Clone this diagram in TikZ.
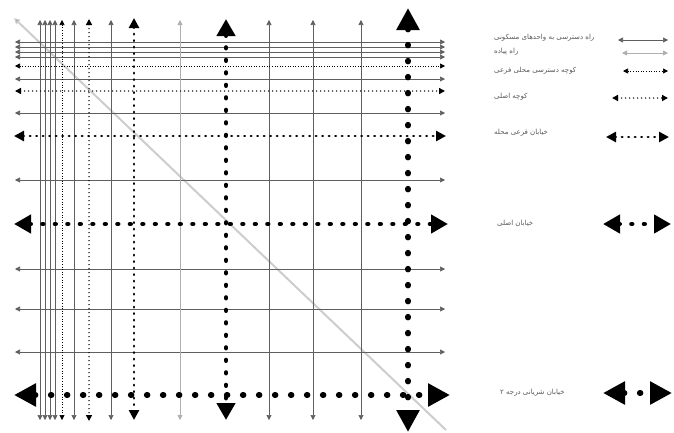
\documentclass[tikz,border=0pt]{standalone}
\usepackage{fontspec}
\usetikzlibrary{arrows.meta, positioning}
\newfontfamily\farsiFont[Script=Arabic]{DejaVu Sans}
\TeXXeTstate=1
\definecolor{colorDarkGray}{RGB}{89, 87, 87}
\definecolor{lineGray}{RGB}{95, 95, 95}
\definecolor{lightLine}{RGB}{175, 175, 175}
\definecolor{diagGray}{RGB}{205, 205, 205}

\begin{document}
\begin{tikzpicture}[
    x=1pt, y=-1pt,
    every node/.style={font=\farsiFont\fontsize{7}{8}\selectfont, text=colorDarkGray, inner sep=0pt},
    tipS/.style={{Triangle[length=5pt,width=5pt]}-{Triangle[length=5pt,width=5pt]}},
    local-road/.style={draw=lineGray, line width=0.6pt, tipS},
    faint-road/.style={draw=lightLine, line width=0.8pt, tipS},
    alley/.style={draw=black, line width=0.7pt, dash pattern=on 1pt off 1.6pt, tipS},
    access/.style={draw=black, line width=1.5pt, line cap=round, dash pattern=on 0pt off 4pt,
        {Triangle[length=6pt,width=6pt]}-{Triangle[length=6pt,width=6pt]}},
    collector/.style={draw=black, line width=2.6pt, line cap=round, dash pattern=on 0.5pt off 6pt,
        {Triangle[length=10pt,width=10pt]}-{Triangle[length=10pt,width=10pt]}},
    arterial/.style={draw=black, line width=4.5pt, line cap=round, dash pattern=on 0.8pt off 11.7pt,
        {Triangle[length=17pt,width=18pt]}-{Triangle[length=17pt,width=18pt]}},
    main-arterial/.style={draw=black, line width=5.5pt, line cap=round, dash pattern=on 1pt off 15pt,
        {Triangle[length=22pt,width=22pt]}-{Triangle[length=22pt,width=22pt]}},
    legend-label/.style={anchor=west}
]
    \useasboundingbox (0,0) rectangle (674,432);

    % diagonal
    \coordinate (diagA) at (14,18);
    \coordinate (diagB) at (446,430);
    \draw[diagGray, line width=2pt, {Triangle[length=6pt,width=6pt,fill=black]}-] (diagA) -- (diagB);

    % thin roads
    \foreach \y in {42,47,52,57,79,113,180,269,309,352}
        \draw[local-road] (15,\y) -- (445,\y);
    \foreach \x in {40,45,50,55,74,111,269,313,361}
        \draw[local-road] (\x,20) -- (\x,420);
    \draw[faint-road] (180,20) -- (180,420);

    % dotted roads
    \draw[alley] (62,20) -- (62,420);
    \draw[alley] (15,66) -- (445,66);
    \draw[access] (89,19) -- (89,421);
    \draw[access] (15,91) -- (445,91);
    \draw[collector] (134,18) -- (134,420);
    \draw[collector] (14,136) -- (446,136);
    \draw[arterial] (226,19) -- (226,420);
    \draw[arterial] (14,224) -- (448,224);
    \draw[main-arterial] (408,8) -- (408,432);
    \draw[main-arterial] (14,395) -- (450,395);

    % legend
    \node[legend-label] (lblLocal) at (494,38) {\beginR راه دسترسی به واحدهای مسکونی\endR};
    \node[legend-label] (lblFaint) at (494,52) {\beginR راه پیاده\endR};
    \node[legend-label] (lblAlley) at (494,71) {\beginR کوچه دسترسی محلی فرعی\endR};
    \node[legend-label] (lblAccess) at (494,97) {\beginR کوچه اصلی\endR};
    \node[legend-label] (lblCollector) at (494,133) {\beginR خیابان فرعی محله\endR};
    \node[legend-label] (lblArterial) at (497,223) {\beginR خیابان اصلی\endR};
    \node[legend-label] (lblMain) at (500,393) {\beginR خیابان شریانی درجه ۲\endR};

    \coordinate (locA) at (618,40);   \coordinate (locB) at (668,40);
    \coordinate (faintA) at (622,53); \coordinate (faintB) at (668,53);
    \coordinate (alleyA) at (623,71); \coordinate (alleyB) at (668,71);
    \coordinate (accA) at (612,98);   \coordinate (accB) at (668,98);
    \coordinate (colA) at (606,137);  \coordinate (colB) at (669,137);
    \coordinate (artA) at (603,224);  \coordinate (artB) at (671,224);
    \coordinate (mainA) at (603,393); \coordinate (mainB) at (672,393);

    \draw[local-road] (locA) -- (locB);
    \draw[faint-road] (faintA) -- (faintB);
    \draw[alley] (alleyA) -- (alleyB);
    \draw[access] (accA) -- (accB);
    \draw[collector] (colA) -- (colB);
    \draw[arterial] (artA) -- (artB);
    \draw[main-arterial] (mainA) -- (mainB);
\end{tikzpicture}
\end{document}
